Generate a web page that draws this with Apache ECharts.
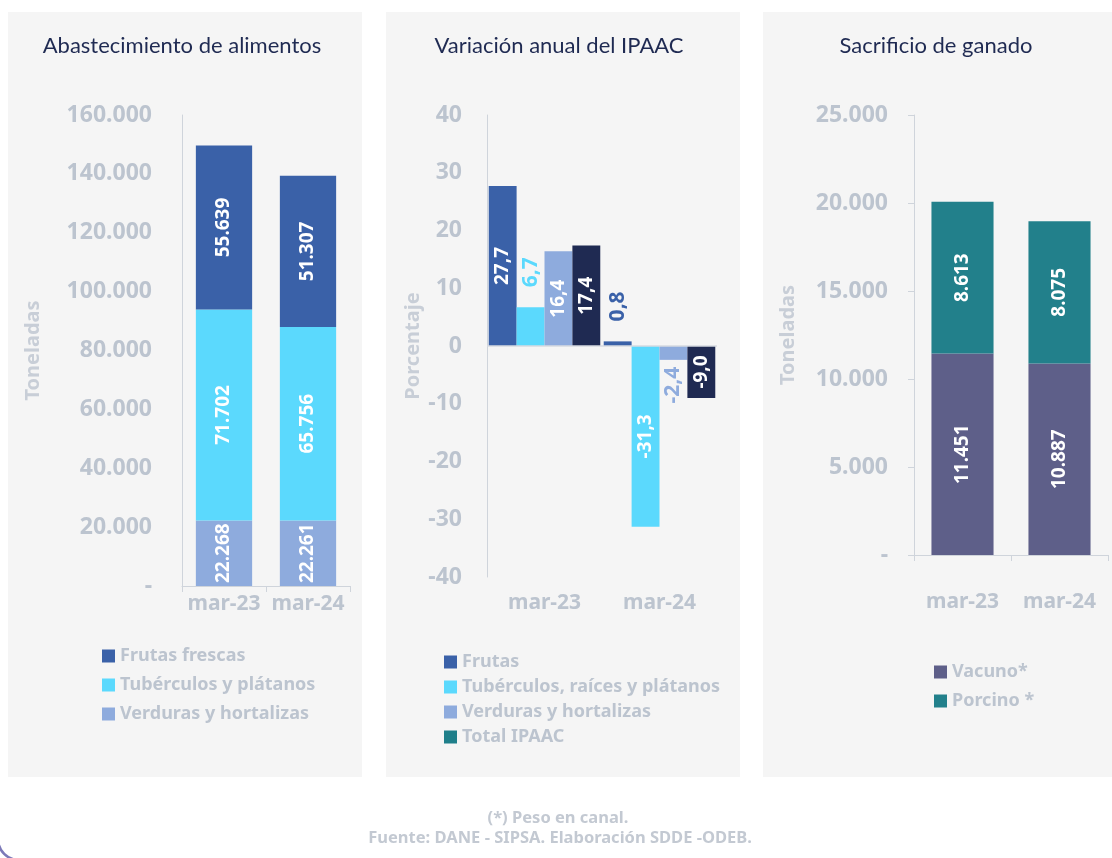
<!DOCTYPE html>
<html><head><meta charset="utf-8">
<script src="https://cdn.jsdelivr.net/npm/echarts@6/dist/echarts.min.js"></script>
<style>html,body{margin:0;padding:0;background:#fff}#c{width:1112px;height:858px}</style>
</head><body><div id="c"></div>
<script>
// ---- Data ----
const categories = ['mar-23', 'mar-24'];
// Abastecimiento de alimentos (toneladas)
const frutasFrescas = [55639, 51307];
const tuberculosPlatanos = [71702, 65756];
const verdurasHortalizas = [22268, 22261];
// Variación anual del IPAAC (%)
const ipaacFrutas = [27.7, 0.8];
const ipaacTuberculos = [6.7, -31.3];
const ipaacVerduras = [16.4, -2.4];
const ipaacTotal = [17.4, -9.0];
// Sacrificio de ganado (toneladas)
const vacuno = [11451, 10887];
const porcino = [8613, 8075];

// ---- Style ----
const FONT = 'Noto Sans';
const C_FRUT = '#3a61a8', C_TUB = '#5bd9fd', C_VER = '#8eabdd', C_TOT = '#1f2a52';
const C_VAC = '#5e5f89', C_POR = '#22808b', C_TEAL_LEG = '#1f7f8a';
const GREY = '#bcc4cf', AXIS = '#cfd4db', TITLE = '#1f2a52';

function thou(v){ if (v === 0) return '-'; return String(v).replace(/\B(?=(\d{3})+(?!\d))/g, '.'); }
function dec(v){ return v.toFixed(1).replace('.', ','); }

const valLabel = { show:true, position:'inside', rotate:90, color:'#fff', fontFamily:FONT, fontWeight:'bold', fontSize:19, formatter:p=>thou(p.value) };

function ipaacData(arr, color){
  return arr.map(v => {
    if (Math.abs(v) < 8) {
      return { value:v, label:{ show:true, rotate:90, color:color, fontFamily:FONT, fontWeight:'bold', fontSize:21,
        position: v >= 0 ? 'top' : 'bottom', align: v >= 0 ? 'left' : 'right', verticalAlign:'middle', distance: v >= 0 ? 20 : 7,
        formatter:p=>dec(p.value) } };
    }
    return { value:v, label:{ show:true, position:'inside', rotate:90, color:'#fff', fontFamily:FONT, fontWeight:'bold', fontSize:19, formatter:p=>dec(p.value) } };
  });
}

const axisLabelY = { color:GREY, fontFamily:FONT, fontWeight:'bold', fontSize:23 };
const axisLabelX = { color:GREY, fontFamily:FONT, fontWeight:'bold', fontSize:21, interval:0 };
const nameStyle = { color:'#c8ced7', fontFamily:FONT, fontWeight:'bold', fontSize:20 };
const legendText = { color:GREY, fontFamily:FONT, fontWeight:'bold', fontSize:18, lineHeight:18 };

const chart = echarts.init(document.getElementById('c'), null, {renderer:'canvas'});
chart.setOption({
  animation:false,
  backgroundColor:'#ffffff',
  graphic:[
    {type:'rect', z:-10, shape:{x:8,y:12,width:354,height:765}, style:{fill:'#f5f5f5'}},
    {type:'rect', z:-10, shape:{x:386,y:12,width:354,height:765}, style:{fill:'#f5f5f5'}},
    {type:'rect', z:-10, shape:{x:763,y:12,width:349,height:765}, style:{fill:'#f5f5f5'}},
    {type:'text', style:{text:'Abastecimiento de alimentos', x:182, y:46, textAlign:'center', textVerticalAlign:'middle', fill:TITLE, font:'22px Lato'}},
    {type:'text', style:{text:'Variación anual del IPAAC', x:559, y:46, textAlign:'center', textVerticalAlign:'middle', fill:TITLE, font:'22px Lato'}},
    {type:'text', style:{text:'Sacrificio de ganado', x:936, y:46, textAlign:'center', textVerticalAlign:'middle', fill:TITLE, font:'22px Lato'}},
    {type:'text', style:{text:'(*) Peso en canal.', x:558, y:818, textAlign:'center', textVerticalAlign:'middle', fill:'#c3c9d2', font:'bold 16.5px "Noto Sans"'}},
    {type:'text', style:{text:'Fuente: DANE - SIPSA. Elaboración SDDE -ODEB.', x:560, y:838, textAlign:'center', textVerticalAlign:'middle', fill:'#c3c9d2', font:'bold 16.5px "Noto Sans"'}},
    {type:'arc', shape:{cx:19, cy:839, r:21, startAngle:Math.PI*0.5, endAngle:Math.PI}, style:{stroke:'#7c79b8', lineWidth:2.5, fill:null}}
  ],
  legend:[
    { left:97, top:642, orient:'vertical', itemGap:11, itemWidth:13, itemHeight:13, icon:'rect', textStyle:legendText,
      data:['Frutas frescas','Tubérculos y plátanos','Verduras y hortalizas'] },
    { left:439, top:648, orient:'vertical', itemGap:7, itemWidth:13, itemHeight:13, icon:'rect', textStyle:legendText,
      data:['Frutas','Tubérculos, raíces y plátanos','Verduras y hortalizas',{name:'Total IPAAC', itemStyle:{color:C_TEAL_LEG}}] },
    { left:929, top:658, orient:'vertical', itemGap:11, itemWidth:13, itemHeight:13, icon:'rect', textStyle:legendText,
      data:['Vacuno*','Porcino *'] }
  ],
  grid:[
    { left:182, top:115, width:168, height:471 },
    { left:487, top:115, width:230, height:462 },
    { left:914, top:115, width:194, height:440 }
  ],
  xAxis:[
    { gridIndex:0, type:'category', data:categories, axisLine:{lineStyle:{color:AXIS}}, axisTick:{show:true, length:6, lineStyle:{color:AXIS}}, axisLabel:Object.assign({margin:8}, axisLabelX) },
    { gridIndex:1, type:'category', data:categories, axisLine:{show:false}, axisTick:{show:false}, axisLabel:Object.assign({margin:16}, axisLabelX) },
    { gridIndex:2, type:'category', data:categories, axisLine:{lineStyle:{color:AXIS}}, axisTick:{show:true, length:6, lineStyle:{color:AXIS}}, axisLabel:Object.assign({margin:37}, axisLabelX) }
  ],
  yAxis:[
    { gridIndex:0, type:'value', min:0, max:160000, interval:20000, name:'Toneladas', nameLocation:'middle', nameGap:139, nameTextStyle:nameStyle,
      axisLine:{show:true, lineStyle:{color:AXIS}}, axisTick:{show:false}, splitLine:{show:false}, axisLabel:Object.assign({margin:30, formatter:thou}, axisLabelY) },
    { gridIndex:1, type:'value', min:-40, max:40, interval:10, name:'Porcentaje', nameLocation:'middle', nameGap:64, nameTextStyle:nameStyle,
      axisLine:{show:true, lineStyle:{color:AXIS}}, axisTick:{show:false}, splitLine:{show:false}, axisLabel:Object.assign({margin:25}, axisLabelY) },
    { gridIndex:2, type:'value', min:0, max:25000, interval:5000, name:'Toneladas', nameLocation:'middle', nameGap:116, nameTextStyle:nameStyle,
      axisLine:{show:true, lineStyle:{color:AXIS}}, axisTick:{show:true, length:6, lineStyle:{color:AXIS}}, splitLine:{show:false}, axisLabel:Object.assign({margin:26, formatter:thou}, axisLabelY) }
  ],
  series:[
    { name:'Verduras y hortalizas', type:'bar', stack:'a', xAxisIndex:0, yAxisIndex:0, data:verdurasHortalizas, itemStyle:{color:C_VER}, barCategoryGap:'33%', label:valLabel },
    { name:'Tubérculos y plátanos', type:'bar', stack:'a', xAxisIndex:0, yAxisIndex:0, data:tuberculosPlatanos, itemStyle:{color:C_TUB}, label:valLabel },
    { name:'Frutas frescas', type:'bar', stack:'a', xAxisIndex:0, yAxisIndex:0, data:frutasFrescas, itemStyle:{color:C_FRUT}, label:valLabel },

    { name:'Frutas', type:'bar', xAxisIndex:1, yAxisIndex:1, data:ipaacData(ipaacFrutas, C_FRUT), itemStyle:{color:C_FRUT}, barGap:'0%', barCategoryGap:'3%',
      markLine:{silent:true, symbol:'none', label:{show:false}, lineStyle:{color:'#d6dae0', type:'solid', width:1.5}, data:[{yAxis:0}]} },
    { name:'Tubérculos, raíces y plátanos', type:'bar', xAxisIndex:1, yAxisIndex:1, data:ipaacData(ipaacTuberculos, C_TUB), itemStyle:{color:C_TUB}, barGap:'0%', barCategoryGap:'3%' },
    { name:'Verduras y hortalizas', type:'bar', xAxisIndex:1, yAxisIndex:1, data:ipaacData(ipaacVerduras, C_VER), itemStyle:{color:C_VER}, barGap:'0%', barCategoryGap:'3%' },
    { name:'Total IPAAC', type:'bar', xAxisIndex:1, yAxisIndex:1, data:ipaacData(ipaacTotal, C_TOT), itemStyle:{color:C_TOT}, barGap:'0%', barCategoryGap:'3%' },

    { name:'Vacuno*', type:'bar', stack:'g', xAxisIndex:2, yAxisIndex:2, data:vacuno, itemStyle:{color:C_VAC}, barCategoryGap:'36%', label:valLabel },
    { name:'Porcino *', type:'bar', stack:'g', xAxisIndex:2, yAxisIndex:2, data:porcino, itemStyle:{color:C_POR}, label:valLabel }
  ]
});
</script>
</body></html>
